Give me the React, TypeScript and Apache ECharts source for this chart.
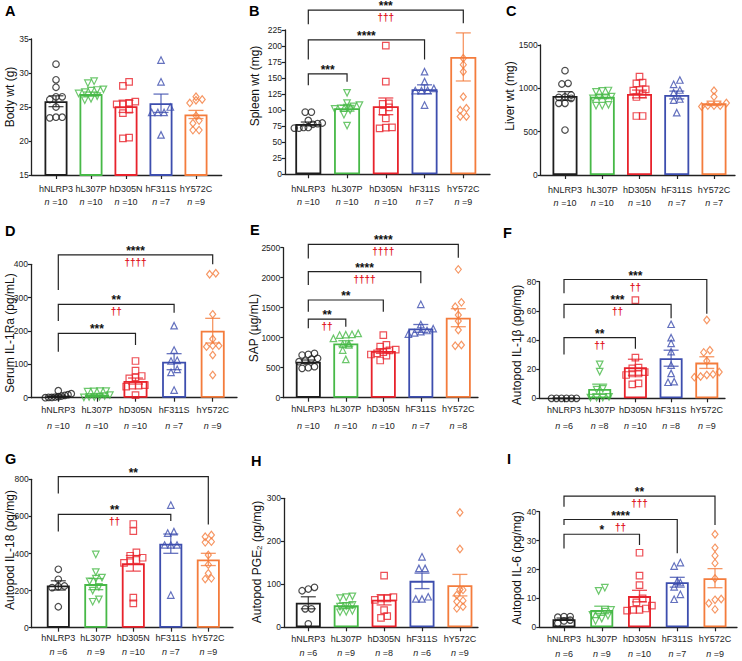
import React, { useEffect, useRef } from 'react';
import * as echarts from 'echarts';

// ---------- data ----------
const CATEGORIES = ['hNLRP3', 'hL307P', 'hD305N', 'hF311S', 'hY572C'];

// A: Body wt (g)
const aN = [10, 10, 10, 7, 9];
const aMeans = [25.85, 26.9, 25.1, 25.55, 23.9];
const aSems = [0.8, 0.3, 0.9, 1.35, 0.6];
const aPoints = [
  [31.3, 29.0, 27.9, 26.5, 26.5, 26.1, 25.0, 23.5, 23.4, 23.5],
  [28.8, 28.5, 27.6, 27.5, 27.4, 27.2, 27.0, 26.6, 26.2, 26.0],
  [28.7, 28.1, 25.8, 25.6, 25.4, 25.4, 24.6, 24.1, 20.5, 20.4],
  [31.9, 28.7, 25.0, 24.2, 24.2, 24.2, 20.9],
  [26.5, 26.1, 26.0, 25.6, 23.7, 23.0, 22.6, 21.6, 21.6],
];

// B: Spleen wt (mg)
const bN = [10, 10, 10, 7, 9];
const bMeans = [78.5, 103, 106, 132.5, 183];
const bSems = [3, 4.5, 13, 7, 37.5];
const bPoints = [
  [97, 97, 84, 80, 79, 78, 73, 72, 72, 73],
  [127, 111, 108, 106, 104, 103, 102, 100, 93, 76],
  [200.6, 144.5, 110.7, 109.7, 104.5, 97.7, 87.3, 72.8, 73.3, 71.7],
  [160, 144.5, 134, 131, 130.5, 130.5, 108],
  [181, 171, 160, 121, 103, 100, 90, 90],
];
const bBrackets = [
  [0, 4, 256, 234, 235.5, '***', '†††'],
  [0, 3, 209.5, 179, 179, '****', ''],
  [0, 1, 156.5, 139, 144.5, '***', ''],
];

// C: Liver wt (mg)
const cN = [10, 10, 10, 7, 7];
const cMeans = [912, 904, 935, 923, 827];
const cSems = [50, 22, 45, 45, 25];
const cPoints = [
  [1204, 1050, 1058, 923, 896, 900, 885, 827, 827, 519],
  [970, 975, 960, 905, 895, 885, 895, 800, 810, 800],
  [1135, 1058, 1065, 988, 981, 973, 931, 900, 681, 681],
  [1096, 1046, 981, 950, 877, 865, 719],
  [973, 904, 830, 800, 790, 800, 800],
];

// D: Serum IL-1Ra (pg/mL)
const dN = [10, 10, 10, 7, 9];
const dMeans = [6, 8, 50, 108, 201];
const dSems = [2, 2.5, 9, 24, 37];
const dPoints = [
  [21, 12, 9, 7, 5, 3, 2, 1, 1, 0],
  [20, 20, 19, 18, 8, 5, 3, 2, 2, 1],
  [110, 81, 65, 61, 58, 38, 36, 36, 33, 8],
  [216, 143, 112, 110, 85, 76, 23],
  [373, 370, 250, 176, 156, 156, 153, 128, 68],
];
const dBrackets = [
  [0, 4, 428, 323, 400, '****', '††††'],
  [0, 3, 280, 230, 255, '**', '††'],
  [0, 2, 193, 138, 158, '***', ''],
];

// E: SAP (µg/mL)
const eN = [10, 10, 10, 7, 8];
const eMeans = [600, 905, 778, 1155, 1333];
const eSems = [28, 45, 40, 65, 150];
const ePoints = [
  [739, 722, 711, 656, 644, 611, 600, 517, 500, 489],
  [1072, 1056, 1050, 1044, 989, 900, 890, 878, 794, 639],
  [1044, 880, 850, 800, 790, 760, 740, 720, 700, 620],
  [1556, 1220, 1150, 1120, 1100, 1080, 1060],
  [2139, 1589, 1517, 1378, 1278, 1128, 878, 867],
];
const eBrackets = [
  [0, 4, 2556, 2322, 2333, '****', '††††'],
  [0, 3, 2100, 1878, 1906, '****', '††††'],
  [0, 2, 1628, 1433, 1433, '**', ''],
  [0, 1, 1311, 1156, 1183, '**', '††'],
];

// F: Autopod IL-1β (pg/mg)
const fN = [6, 8, 10, 8, 9];
const fMeans = [0, 6.4, 21.3, 27.5, 24.5];
const fSems = [0, 3.3, 5.5, 5.5, 4];
const fPoints = [
  [0, 0, 0, 0, 0, 0],
  [23.3, 18.3, 6.5, 6, 1, 0.5, 0.5, 0.5],
  [67.4, 27.9, 21, 20.5, 18, 17, 17, 16, 9.6, 10.3],
  [50.8, 41.6, 37.7, 32, 22.8, 17.1, 11, 11.4],
  [53.7, 33, 31.5, 25.6, 18, 16.5, 16, 15, 14.5],
];
const fBrackets = [
  [0, 4, 81.5, 72, 58, '***', '††'],
  [0, 3, 64.5, 55, 55, '***', '††'],
  [0, 2, 41.6, 30, 34, '**', '††'],
];

// G: Autopod IL-18 (pg/mg)
const gN = [6, 9, 10, 7, 9];
const gMeans = [228, 235, 347, 453, 368];
const gSems = [25, 30, 42, 52, 33];
const gPoints = [
  [315, 261, 225, 221, 216, 113],
  [395, 300, 270, 265, 250, 220, 200, 153, 140],
  [559, 521, 406, 388, 377, 365, 360, 350, 162, 131],
  [661, 518, 510, 446, 446, 446, 176],
  [500, 490, 464, 460, 392, 340, 293, 266, 262],
];
const gBrackets = [
  [0, 4, 814, 724, 557, '**', ''],
  [0, 3, 611, 518, 575, '**', '††'],
];

// H: Autopod PGE2 (pg/mg)
const hN = [6, 9, 8, 6, 9];
const hMeans = [57, 51, 64, 108, 98];
const hSems = [14, 6, 12, 18, 25];
const hPoints = [
  [93, 85, 89, 43, 43, 8],
  [72, 70, 68, 52, 50, 48, 38, 36, 35],
  [120, 70, 67, 64, 67, 40, 26, 22],
  [164, 137, 137, 66, 71, 66],
  [267, 182, 88, 87, 75, 62, 60, 48, 44],
];

// I: Autopod IL-6 (pg/mg)
const iN = [6, 9, 10, 7, 9];
const iMeans = [2.8, 6, 10.8, 15.6, 17];
const iSems = [0.4, 1.3, 2, 1.7, 3.3];
const iPoints = [
  [3.7, 3.5, 3.7, 2.5, 2.2, 1.4],
  [13.7, 12.6, 6, 5.4, 4.3, 4.3, 4, 3, 2.2],
  [25.8, 17.9, 14.6, 10, 8.6, 7.5, 6.5, 6, 6, 5.8],
  [22.4, 21.2, 16, 15.5, 14, 11.4, 9.7],
  [32.2, 27.5, 24.8, 22.2, 16.9, 9.8, 9.5, 8.3, 6.2],
];
const iBrackets = [
  [0, 4, 45.4, 41.7, 35.4, '**', '†††'],
  [0, 3, 37.3, 35.4, 25.6, '****', '††'],
  [0, 2, 32.2, 27.3, 28.5, '*', ''],
];

// ---------- styles / layout ----------
const COLORS = ['#1e1e1e', '#47b947', '#e8232c', '#3d4eae', '#f47c3c'];
const RED = '#e0141e';
const AX = '#222';
const FONT = "'Liberation Sans', Arial, sans-serif";

const PANELS = [
  { id: 'A', yTitle: 'Body wt (g)', y: [15, 35, 5], means: aMeans, sems: aSems, pts: aPoints, n: aN, br: [],
    box: [31.7, 39, 221.7, 175], c0: 56, sp: 35, bw: 23, lm: 7.3, lh: 13.3, title: [10, 97], letter: [5, 3] },
  { id: 'B', yTitle: 'Spleen wt (mg)', y: [0, 225, 25], means: bMeans, sems: bSems, pts: bPoints, n: bN, br: bBrackets,
    box: [285, 30, 490, 174.3], c0: 308.3, sp: 38.75, bw: 26, lm: 8, lh: 13.3, title: [255, 86], letter: [249, 3] },
  { id: 'C', yTitle: 'Liver wt (mg)', y: [0, 1500, 500], means: cMeans, sems: cSems, pts: cPoints, n: cN, br: [],
    box: [540.7, 45, 735, 175], c0: 565, sp: 37.25, bw: 25, lm: 8.3, lh: 13.3, title: [509.5, 96], letter: [506, 3] },
  { id: 'D', yTitle: 'Serum IL-1Ra (pg/mL)', y: [0, 400, 100], means: dMeans, sems: dSems, pts: dPoints, n: dN, br: dBrackets,
    box: [31, 264.3, 237, 397.7], c0: 58.3, sp: 38.6, bw: 24, lm: 4.5, lh: 15.7, title: [10, 333], letter: [5, 223] },
  { id: 'E', yTitle: 'SAP (µg/mL)', y: [0, 2500, 500], means: eMeans, sems: eSems, pts: ePoints, n: eN, br: eBrackets, upGreen: true,
    box: [283.3, 247.7, 478, 397.7], c0: 308.3, sp: 37.5, bw: 25, lm: 3, lh: 16.7, title: [254, 328], letter: [250, 222] },
  { id: 'F', yTitle: 'Autopod IL-1β (pg/mg)', y: [0, 80, 20], means: fMeans, sems: fSems, pts: fPoints, n: fN, br: fBrackets,
    box: [539.3, 281.7, 725, 398.3], c0: 564, sp: 35.7, bw: 23, lm: 3.9, lh: 15.7, title: [516.7, 345], letter: [503, 225] },
  { id: 'G', yTitle: 'Autopod IL-18 (pg/mg)', y: [0, 800, 200], means: gMeans, sems: gSems, pts: gPoints, n: gN, br: gBrackets,
    box: [31.7, 479.3, 233, 627.7], c0: 58.3, sp: 37.5, bw: 23, lm: 3.6, lh: 14, title: [10, 550], letter: [5, 451] },
  { id: 'H', yTitle: 'Autopod PGE{s|2} (pg/mg)', y: [0, 300, 100], means: hMeans, sems: hSems, pts: hPoints, n: hN, br: [],
    box: [284, 498.3, 478, 627.3], c0: 308.3, sp: 37.9, bw: 25, lm: 4.5, lh: 14.3, title: [256.7, 562], letter: [251, 453] },
  { id: 'I', yTitle: 'Autopod IL-6 (pg/mg)', y: [0, 40, 10], means: iMeans, sems: iSems, pts: iPoints, n: iN, br: iBrackets,
    box: [539.3, 511.7, 737, 627.3], c0: 564, sp: 37.75, bw: 23, lm: 4, lh: 15.3, title: [516.7, 568], letter: [507, 451] },
];

// beeswarm-like horizontal spread: rows of close values centred on the category
function swarmOffsets(vals: number[], pxPerUnit: number, spacing: number, bw: number) {
  const order = vals.map((_, i) => i).sort((a, b) => vals[a] - vals[b]);
  const rows: number[][] = [];
  let cur: number[] = [];
  let start = 0;
  for (const i of order) {
    if (cur.length && (vals[i] - start) * pxPerUnit > 5.5) {
      rows.push(cur);
      cur = [];
    }
    if (!cur.length) start = vals[i];
    cur.push(i);
  }
  if (cur.length) rows.push(cur);
  const off = new Array(vals.length).fill(0);
  rows.forEach((r) => {
    const k = r.length;
    const d = k > 1 ? Math.min(6.2, (bw + 2) / (k - 1)) : 0;
    r.forEach((i, j) => {
      off[i] = ((j - (k - 1) / 2) * d) / spacing;
    });
  });
  return off;
}

function buildOption() {
  const grid: any[] = [];
  const xAxis: any[] = [];
  const yAxis: any[] = [];
  const series: any[] = [];
  const graphic: any[] = [];

  PANELS.forEach((p, k) => {
    const [left, top, right, bottom] = p.box;
    const [yMin, yMax, yInt] = p.y;
    grid.push({ left, top, width: right - left, height: bottom - top, containLabel: false });
    const xmin = -(p.c0 - left) / p.sp;
    const xmax = xmin + (right - left) / p.sp;
    const lh = p.lh;
    xAxis.push({
      gridIndex: k, type: 'value', min: xmin, max: xmax,
      splitLine: { show: false },
      axisLine: { show: true, onZero: false, lineStyle: { color: AX, width: 1.3 } },
      axisTick: { show: true, customValues: [0, 1, 2, 3, 4], length: 4, lineStyle: { color: AX, width: 1.2 } },
      axisLabel: {
        show: true, customValues: [0, 1, 2, 3, 4], margin: p.lm, interval: 0, hideOverlap: false,
        showMinLabel: true, showMaxLabel: true,
        formatter: (v: number) => {
          const i = Math.round(v);
          return `{c|${CATEGORIES[i]}}\n{i|n}{c| =${p.n[i]}}`;
        },
        rich: {
          c: { fontSize: 9, fontFamily: FONT, color: AX, lineHeight: lh },
          i: { fontSize: 9, fontFamily: FONT, color: AX, fontStyle: 'italic', lineHeight: lh },
        },
      },
    });
    yAxis.push({
      gridIndex: k, type: 'value', min: yMin, max: yMax, interval: yInt,
      splitLine: { show: false },
      axisLine: { show: true, onZero: false, lineStyle: { color: AX, width: 1.3 } },
      axisTick: { show: true, length: 3, lineStyle: { color: AX, width: 1.2 } },
      axisLabel: { fontSize: 8.5, fontFamily: FONT, color: AX, margin: 3, formatter: (v: number) => String(v) },
    });

    // bars
    series.push({
      type: 'bar', xAxisIndex: k, yAxisIndex: k, barWidth: p.bw, silent: true, z: 1,
      itemStyle: { color: '#fff', borderWidth: 1.8 },
      data: p.means.map((m, i) => ({ value: [i, m], itemStyle: { borderColor: COLORS[i], color: '#fff' } })),
    });

    // points
    const pxPerUnit = (bottom - top) / (yMax - yMin);
    p.pts.forEach((vals, g) => {
      const off = swarmOffsets(vals, pxPerUnit, p.sp, p.bw);
      const symbol = ['circle', 'triangle', 'rect', 'triangle', 'diamond'][g];
      const rotate = g === 1 && !p.upGreen ? 180 : 0;
      const size = g === 4 ? [6, 7.5] : 6.5;
      series.push({
        type: 'scatter', xAxisIndex: k, yAxisIndex: k, symbol, symbolRotate: rotate, symbolSize: size,
        silent: true, z: 4,
        itemStyle: { color: 'rgba(255,255,255,0)', borderColor: COLORS[g], borderWidth: 1.2 },
        data: vals.map((v, j) => [g + off[j], v]),
      });
    });

    // error bars (mean ± SEM)
    series.push({
      type: 'custom', xAxisIndex: k, yAxisIndex: k, silent: true, z: 3, clip: false,
      data: p.means.map((m, i) => [i, m, p.sems[i]]),
      renderItem: (params: any, api: any) => {
        const i = api.value(0), m = api.value(1), s = api.value(2);
        if (!(s > 0)) return null;
        const t = api.coord([i, m + s]);
        const b = api.coord([i, Math.max(yMin, m - s)]);
        const col = COLORS[params.dataIndex];
        const hw = 7.5;
        const st = { stroke: col, lineWidth: 1.3, opacity: 0.8 };
        return {
          type: 'group',
          children: [
            { type: 'line', shape: { x1: t[0], y1: t[1], x2: b[0], y2: b[1] }, style: st },
            { type: 'line', shape: { x1: t[0] - hw, y1: t[1], x2: t[0] + hw, y2: t[1] }, style: st },
            { type: 'line', shape: { x1: b[0] - hw, y1: b[1], x2: b[0] + hw, y2: b[1] }, style: st },
          ],
        };
      },
    });

    // significance brackets
    if (p.br.length) {
      const br = p.br;
      series.push({
        type: 'custom', xAxisIndex: k, yAxisIndex: k, silent: true, z: 5, clip: false,
        data: br.map((r: any[]) => [r[0], r[2], r[1], r[3], r[4]]),
        renderItem: (params: any, api: any) => {
          const r = br[params.dataIndex];
          const L = api.coord([r[0], r[2]]);
          const R = api.coord([r[1], r[2]]);
          const Le = api.coord([r[0], r[3]]);
          const Re = api.coord([r[1], r[4]]);
          const mid = (L[0] + R[0]) / 2;
          const children: any[] = [
            {
              type: 'polyline',
              shape: { points: [[L[0], Le[1]], [L[0], L[1]], [R[0], R[1]], [R[0], Re[1]]] },
              style: { stroke: AX, lineWidth: 1.2, fill: null },
            },
            {
              type: 'text',
              style: { text: r[5], x: mid, y: L[1] - 4, align: 'center', verticalAlign: 'middle',
                fontSize: 12, fontWeight: 'bold', fontFamily: FONT, fill: '#111' },
            },
          ];
          if (r[6]) {
            children.push({
              type: 'text',
              style: { text: r[6], x: mid, y: L[1] + 7.5, align: 'center', verticalAlign: 'middle',
                fontSize: 10, fontWeight: 'bold', fontFamily: FONT, fill: RED },
            });
          }
          return { type: 'group', children };
        },
      });
    }

    // y-axis title
    graphic.push({
      type: 'text', x: p.title[0], y: p.title[1], rotation: Math.PI / 2, silent: true,
      style: {
        text: p.yTitle, align: 'center', verticalAlign: 'middle', fontSize: 12, fontFamily: FONT, fill: '#111',
        rich: { s: { fontSize: 8, fontFamily: FONT, fill: '#111', verticalAlign: 'bottom', lineHeight: 14 } },
      },
    });
    // panel letter
    graphic.push({
      type: 'text', x: p.letter[0], y: p.letter[1], silent: true,
      style: { text: p.id, fontSize: 14.5, fontWeight: 'bold', fontFamily: FONT, fill: '#000', align: 'left', verticalAlign: 'top' },
    });
  });

  return { animation: false, backgroundColor: '#fff', grid, xAxis, yAxis, series, graphic };
}

export default function App() {
  const ref = useRef<HTMLDivElement>(null);
  useEffect(() => {
    document.body.style.margin = '0';
    if (!ref.current) return;
    const chart = echarts.init(ref.current, undefined, { renderer: 'svg' });
    chart.setOption(buildOption() as any);
    return () => chart.dispose();
  }, []);
  return <div ref={ref} style={{ width: 742, height: 661 }} />;
}
